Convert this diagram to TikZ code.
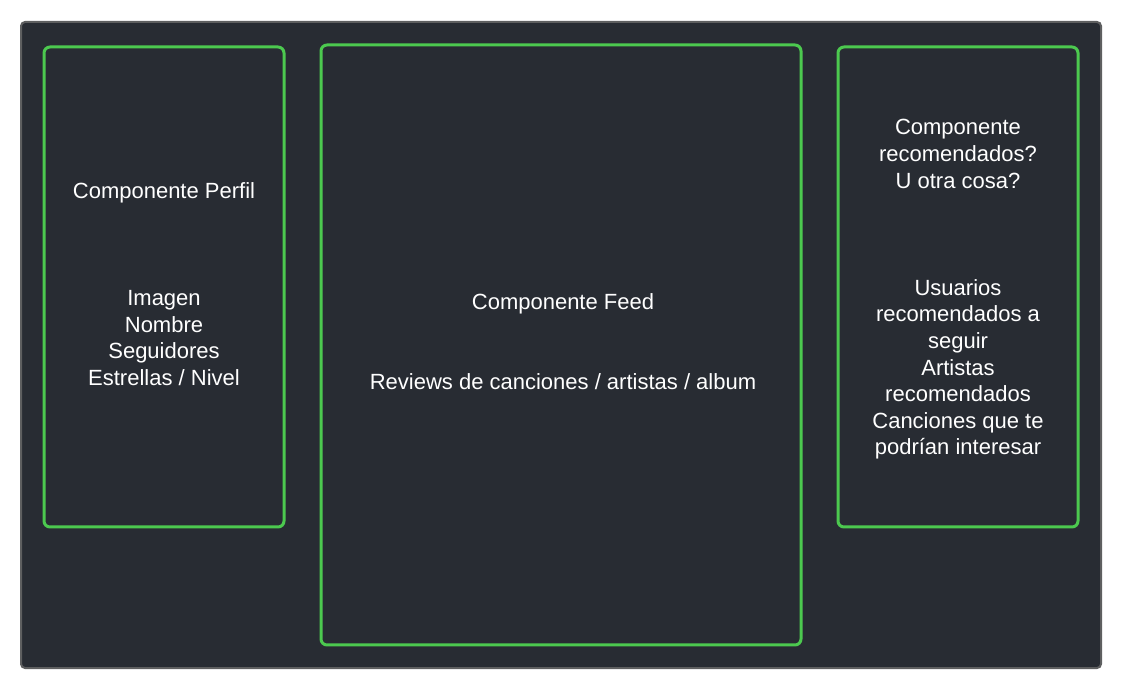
\documentclass[tikz,border=0pt]{standalone}
\usepackage{fontspec}
\setmainfont{Liberation Sans}
\usetikzlibrary{positioning}
\definecolor{panelbg}{HTML}{282C33}
\definecolor{panelrim}{HTML}{5E5F60}
\definecolor{compgreen}{HTML}{4CC94F}
\newcommand{\gap}{\\[80.5pt]}

\begin{document}
\begin{tikzpicture}[
    page/.style={draw=panelrim, line width=2pt, fill=panelbg, rounded corners=4pt},
    comp/.style={draw=compgreen, line width=3pt, rounded corners=6pt, inner sep=0pt},
    sidecomp/.style={comp, minimum width=240pt, minimum height=480pt},
    feedcomp/.style={comp, minimum width=480pt, minimum height=600pt},
    txt/.style={text=white, align=center, inner sep=0pt,
                font=\fontsize{22}{26.6}\selectfont}
  ]
  \useasboundingbox (0pt,0pt) rectangle (1123pt,690pt);

  % ================= PAGE =================
  \draw[page] (21pt,22pt) rectangle (1101pt,668pt);

  % ================= PERFIL =================
  \node[sidecomp] (perfil) at (164pt,403pt) {};
  \node[txt, yshift=3pt] (perfiltxt) at (perfil) {%
    Componente Perfil\gap
    Imagen\\
    Nombre\\
    Seguidores\\
    Estrellas / Nivel};

  % ================= FEED =================
  \node[feedcomp] (feed) at (561pt,345pt) {};
  \node[txt, yshift=3.5pt, xshift=2pt] (feedtxt) at (feed) {%
    Componente Feed\\[53.5pt]
    Reviews de canciones / artistas / album};

  % ================= RECOMENDADOS =================
  \node[sidecomp] (recom) at (958pt,403pt) {};
  \node[txt, yshift=-2.5pt] (recomtxt) at (recom) {%
    Componente\\
    recomendados?\\
    U otra cosa?\gap
    Usuarios\\
    recomendados a\\
    seguir\\
    Artistas\\
    recomendados\\
    Canciones que te\\
    podrían interesar};

\end{tikzpicture}
\end{document}
